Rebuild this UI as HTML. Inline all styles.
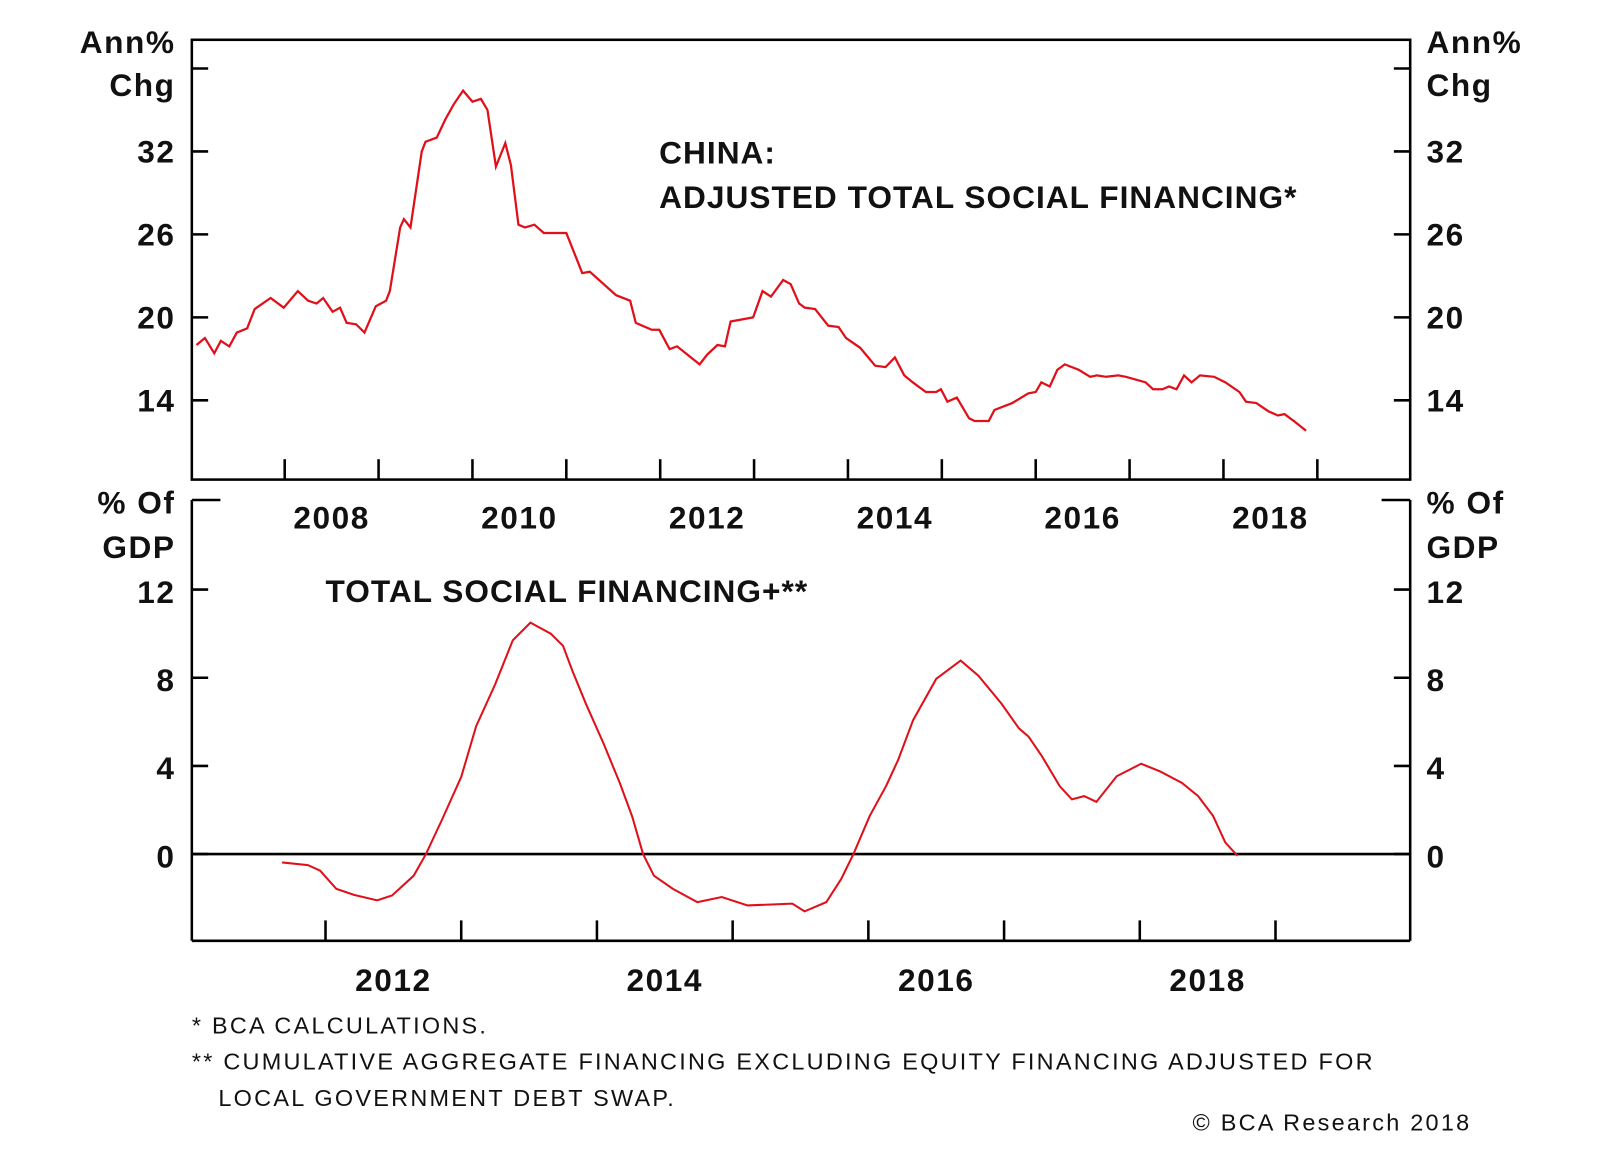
<!DOCTYPE html>
<html><head><meta charset="utf-8"><style>
body{margin:0;background:#fff;}
svg{display:block;font-family:"Liberation Sans",Arial,sans-serif;}
.t{font-size:31px;font-weight:bold;fill:#111;letter-spacing:1.5px;}
.ti{font-size:31px;font-weight:bold;fill:#111;letter-spacing:1px;}
.f{font-size:23px;fill:#111;letter-spacing:2.2px;}
</style></head><body>
<svg id="chart" width="1600" height="1152" viewBox="0 0 1600 1152">
<g transform="scale(1.0204)">
<g id="topPanel"></g>
<g id="botPanel"></g>
<text class="ti" x="646" y="160">CHINA:</text>
<text class="ti" x="646" y="204">ADJUSTED TOTAL SOCIAL FINANCING*</text>
<text class="ti" x="319" y="590">TOTAL SOCIAL FINANCING+**</text>
<text class="f" x="188" y="1013">*  BCA CALCULATIONS.</text>
<text class="f" x="188" y="1048">** CUMULATIVE AGGREGATE FINANCING EXCLUDING EQUITY FINANCING ADJUSTED FOR</text>
<text class="f" x="214" y="1084">LOCAL GOVERNMENT DEBT SWAP.</text>
<text class="f" x="1442" y="1108" text-anchor="end">© BCA Research 2018</text>
</g>
</svg>
<script>
const topYears=[2007.06,2007.15,2007.25,2007.32,2007.41,2007.49,2007.60,2007.68,2007.85,2007.99,2008.14,2008.25,2008.34,2008.41,2008.51,2008.59,2008.66,2008.76,2008.85,2008.97,2009.08,2009.12,2009.23,2009.27,2009.34,2009.46,2009.50,2009.62,2009.71,2009.80,2009.90,2010.00,2010.09,2010.16,2010.25,2010.35,2010.41,2010.49,2010.56,2010.66,2010.76,2011.00,2011.17,2011.25,2011.53,2011.68,2011.74,2011.91,2011.99,2012.10,2012.18,2012.29,2012.42,2012.50,2012.61,2012.69,2012.75,2012.99,2013.09,2013.18,2013.31,2013.39,2013.48,2013.54,2013.65,2013.79,2013.90,2013.98,2014.13,2014.29,2014.40,2014.50,2014.60,2014.69,2014.83,2014.94,2014.99,2015.06,2015.16,2015.29,2015.35,2015.50,2015.56,2015.75,2015.92,2016.00,2016.06,2016.15,2016.23,2016.31,2016.46,2016.58,2016.65,2016.75,2016.88,2016.96,2017.17,2017.25,2017.35,2017.42,2017.50,2017.58,2017.66,2017.75,2017.90,2018.02,2018.17,2018.24,2018.35,2018.48,2018.58,2018.65,2018.75,2018.88];
const topValues=[18.0,18.5,17.4,18.3,17.9,18.9,19.2,20.6,21.4,20.7,21.9,21.2,21.0,21.4,20.4,20.7,19.6,19.5,18.9,20.8,21.2,21.9,26.5,27.1,26.5,32.0,32.7,33.0,34.3,35.4,36.4,35.6,35.8,35.0,30.9,32.6,31.0,26.7,26.5,26.7,26.1,26.1,23.2,23.3,21.6,21.2,19.6,19.1,19.1,17.7,17.9,17.3,16.6,17.3,18.0,17.9,19.7,20.0,21.9,21.5,22.7,22.4,21.0,20.7,20.6,19.4,19.3,18.5,17.8,16.5,16.4,17.1,15.8,15.3,14.6,14.6,14.8,13.9,14.2,12.7,12.5,12.5,13.3,13.8,14.5,14.6,15.3,15.0,16.2,16.6,16.2,15.7,15.8,15.7,15.8,15.7,15.3,14.8,14.8,15.0,14.8,15.8,15.3,15.8,15.7,15.3,14.6,13.9,13.8,13.2,12.9,13.0,12.5,11.8];
const topYTicks=[14,20,26,32];
const topXLabels=[2008,2010,2012,2014,2016,2018];
const botYears=[2011.68,2011.87,2011.96,2012.08,2012.21,2012.38,2012.49,2012.65,2012.74,2012.86,2013.0,2013.11,2013.25,2013.38,2013.51,2013.66,2013.75,2013.82,2013.92,2014.05,2014.17,2014.26,2014.34,2014.42,2014.56,2014.74,2014.92,2015.11,2015.44,2015.53,2015.69,2015.80,2015.89,2016.01,2016.13,2016.22,2016.33,2016.50,2016.68,2016.81,2016.98,2017.11,2017.18,2017.28,2017.41,2017.50,2017.59,2017.68,2017.83,2018.01,2018.15,2018.31,2018.43,2018.54,2018.63,2018.72];
const botValues=[-0.38,-0.5,-0.75,-1.58,-1.85,-2.1,-1.88,-0.98,0,1.58,3.5,5.8,7.7,9.7,10.5,10.0,9.45,8.3,6.8,5.0,3.2,1.7,0,-0.98,-1.58,-2.18,-1.95,-2.33,-2.25,-2.6,-2.18,-1.13,0,1.73,3.08,4.28,6.08,7.95,8.78,8.1,6.83,5.7,5.33,4.43,3.08,2.48,2.63,2.37,3.53,4.1,3.75,3.23,2.63,1.73,0.53,-0.08];
const botYTicks=[0,4,8,12];
const botXLabels=[2012,2014,2016,2018];

const NS="http://www.w3.org/2000/svg";
function mk(parent,tag,attrs){const e=document.createElementNS(NS,tag);for(const k in attrs)e.setAttribute(k,attrs[k]);parent.appendChild(e);return e;}
const L=188,R=1382;
const tx=y=>279+(y-2008)*92;
const ty=v=>311-(v-20)*13.55;
const bx=y=>319+(y-2012)*133;
const by=v=>837-v*21.6;

const gTop=document.getElementById('topPanel');
let r=mk(gTop,'rect',{x:L,y:39,width:R-L,height:431,fill:'none',stroke:'#000','stroke-width':2.5});


[38].concat(topYTicks).forEach(v=>{
  const y=ty(v);
  let a=mk(gTop,'line',{x1:L,x2:L+16,y1:y,y2:y,stroke:'#000','stroke-width':2.5});
  
  
  let b=mk(gTop,'line',{x1:R-16,x2:R,y1:y,y2:y,stroke:'#000','stroke-width':2.5});
  
  
});
topYTicks.forEach(v=>{
  const y=ty(v)+11;
  let a=mk(gTop,'text',{x:172,y:y,'text-anchor':'end',class:'t'});a.textContent=v;
  
  
  let b=mk(gTop,'text',{x:1398,y:y,class:'t'});b.textContent=v;
  
  
});
for(let yr=2008;yr<=2019;yr++){
  let t=mk(gTop,'line',{x1:tx(yr),x2:tx(yr),y1:450,y2:470,stroke:'#000','stroke-width':2.5});
  
  
}
topXLabels.forEach(yr=>{
  let t=mk(gTop,'text',{x:tx(yr+0.5),y:518,'text-anchor':'middle',class:'t'});t.textContent=yr;
  
  
});
[['Ann%',172,52,'end'],['Chg',172,94,'end'],['Ann%',1398,52,'start'],['Chg',1398,94,'start']].forEach(d=>{
  let t=mk(gTop,'text',{x:d[1],y:d[2],'text-anchor':d[3],class:'t'});t.textContent=d[0];
  
  
});
let p1=mk(gTop,'polyline',{points:topYears.map((y,i)=>tx(y)+','+ty(topValues[i])).join(' '),fill:'none',stroke:'#e0101a','stroke-width':2.2});



const gBot=document.getElementById('botPanel');
[[L,490,L,922],[R,490,R,922],[L,922,R,922],[L,490,L+28,490],[R-28,490,R,490]].forEach(c=>{
  let l=mk(gBot,'line',{x1:c[0],y1:c[1],x2:c[2],y2:c[3],stroke:'#000','stroke-width':2.5});
  
  
});
let z=mk(gBot,'line',{x1:L,x2:R,y1:by(0),y2:by(0),stroke:'#000','stroke-width':2.5});


botYTicks.forEach(v=>{
  const y=by(v);
  let a=mk(gBot,'line',{x1:L,x2:L+16,y1:y,y2:y,stroke:'#000','stroke-width':2.5});
  
  
  let b=mk(gBot,'line',{x1:R-16,x2:R,y1:y,y2:y,stroke:'#000','stroke-width':2.5});
  
  
  let c=mk(gBot,'text',{x:172,y:y+13,'text-anchor':'end',class:'t'});c.textContent=v;
  
  
  let d=mk(gBot,'text',{x:1398,y:y+13,class:'t'});d.textContent=v;
  
  
});
for(let yr=2012;yr<=2019;yr++){
  let t=mk(gBot,'line',{x1:bx(yr),x2:bx(yr),y1:902,y2:922,stroke:'#000','stroke-width':2.5});
  
  
}
botXLabels.forEach(yr=>{
  let t=mk(gBot,'text',{x:bx(yr+0.5),y:971,'text-anchor':'middle',class:'t'});t.textContent=yr;
  
  
});
[['% Of',172,503,'end'],['GDP',172,547,'end'],['% Of',1398,503,'start'],['GDP',1398,547,'start']].forEach(d=>{
  let t=mk(gBot,'text',{x:d[1],y:d[2],'text-anchor':d[3],class:'t'});t.textContent=d[0];
  
  
});
let p2=mk(gBot,'polyline',{points:botYears.map((y,i)=>bx(y)+','+by(botValues[i])).join(' '),fill:'none',stroke:'#e0101a','stroke-width':2});


</script>
</body></html>
